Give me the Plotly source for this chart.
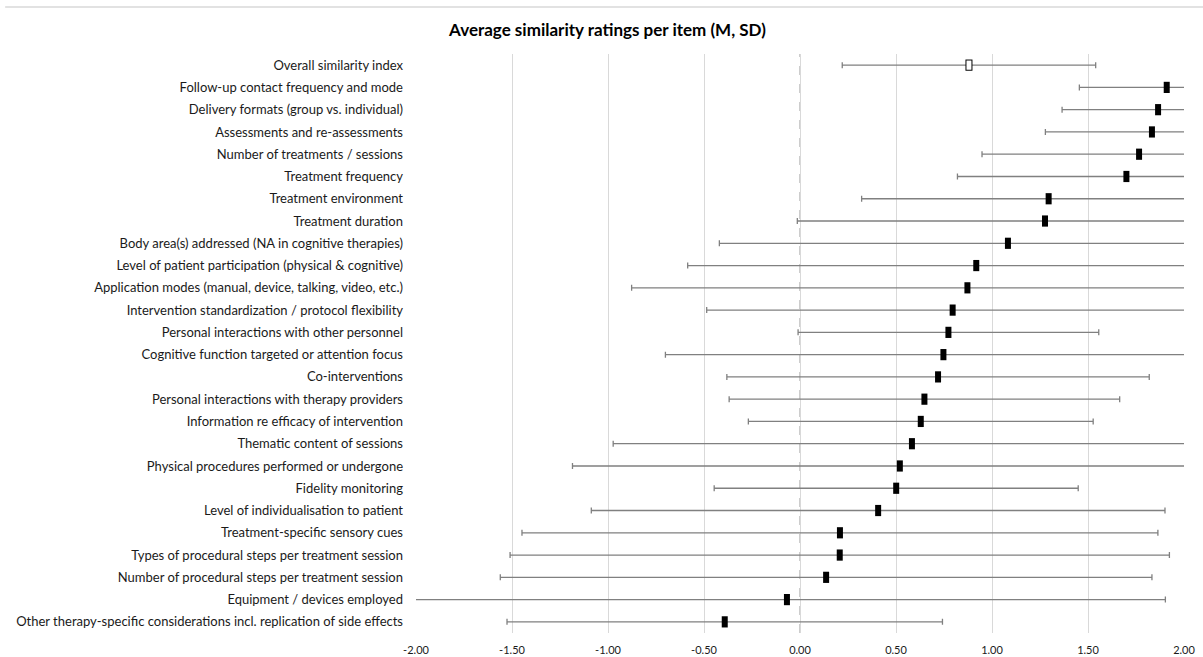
import plotly.graph_objects as go

items = [
    "Overall similarity index",
    "Follow-up contact frequency and mode",
    "Delivery formats (group vs. individual)",
    "Assessments and re-assessments",
    "Number of treatments / sessions",
    "Treatment frequency",
    "Treatment environment",
    "Treatment duration",
    "Body area(s) addressed (NA in cognitive therapies)",
    "Level of patient participation (physical & cognitive)",
    "Application modes (manual, device, talking, video, etc.)",
    "Intervention standardization / protocol flexibility",
    "Personal interactions with other personnel",
    "Cognitive function targeted or attention focus",
    "Co-interventions",
    "Personal interactions with therapy providers",
    "Information re efficacy of intervention",
    "Thematic content of sessions",
    "Physical procedures performed or undergone",
    "Fidelity monitoring",
    "Level of individualisation to patient",
    "Treatment-specific sensory cues",
    "Types of procedural steps per treatment session",
    "Number of procedural steps per treatment session",
    "Equipment / devices employed",
    "Other therapy-specific considerations incl. replication of side effects",
]

means = [0.88, 1.91, 1.865, 1.833, 1.766, 1.70, 1.295, 1.276, 1.083, 0.918,
         0.872, 0.795, 0.773, 0.747, 0.719, 0.648, 0.629, 0.583, 0.520, 0.501,
         0.407, 0.208, 0.207, 0.136, -0.068, -0.392]

sds = [0.66, 0.455, 0.50, 0.555, 0.818, 0.88, 0.974, 1.29, 1.503, 1.503,
       1.749, 1.281, 0.783, 1.448, 1.10, 1.017, 0.898, 1.556, 1.705, 0.948,
       1.494, 1.656, 1.717, 1.697, 1.971, 1.134]

tick_vals = [-2.0, -1.5, -1.0, -0.5, 0.0, 0.5, 1.0, 1.5, 2.0]
tick_text = ["-2.00", "-1.50", "-1.00", "-0.50", "0.00", "0.50", "1.00", "1.50", "2.00"]

FONT = "Lato"
ERR_COLOR = "#808080"

fig = go.Figure()

# Item rows (filled markers)
fig.add_trace(go.Scatter(
    x=means[1:], y=items[1:], mode="markers",
    marker=dict(symbol="line-ns", size=8, color="black",
                line=dict(width=6, color="black")),
    error_x=dict(type="data", array=sds[1:], visible=True,
                 color=ERR_COLOR, thickness=1.3, width=3),
    showlegend=False, hoverinfo="x+y",
))

# Overall index (hollow marker): outer black then inner white
fig.add_trace(go.Scatter(
    x=means[:1], y=items[:1], mode="markers",
    marker=dict(symbol="line-ns", size=8, color="black",
                line=dict(width=7, color="black")),
    error_x=dict(type="data", array=sds[:1], visible=True,
                 color=ERR_COLOR, thickness=1.3, width=3),
    showlegend=False, hoverinfo="x+y",
))
fig.add_trace(go.Scatter(
    x=means[:1], y=items[:1], mode="markers",
    marker=dict(symbol="line-ns", size=6.6, color="white",
                line=dict(width=5, color="white")),
    showlegend=False, hoverinfo="skip",
))

# zero reference line (dashed)
fig.add_shape(type="line", xref="x", yref="paper", x0=0, x1=0, y0=0, y1=1,
              line=dict(color="#9a9a9a", width=1, dash="dash"), layer="below")
# top border line of the chart
fig.add_shape(type="line", xref="paper", yref="paper", x0=-0.535, x1=1.03,
              y0=1.081, y1=1.081, line=dict(color="#d9d9d9", width=1.5))

n = len(items)
fig.update_layout(
    width=1203, height=657,
    margin=dict(l=416, r=19, t=54, b=24),
    paper_bgcolor="white", plot_bgcolor="white",
    title=dict(text="<b>Average similarity ratings per item (M, SD)</b>",
               x=0.505, xanchor="center", y=0.955, yanchor="middle",
               font=dict(family=FONT, size=17, color="#000000")),
    font=dict(family=FONT, color="#1a1a1a"),
    xaxis=dict(range=[-2, 2], tickvals=tick_vals, ticktext=tick_text,
               showgrid=True, gridcolor="#d9d9d9", gridwidth=1,
               zeroline=False, showline=False, ticks="",
               ticklabelstandoff=9, automargin=False,
               tickfont=dict(family=FONT, size=11, color="#1a1a1a")),
    yaxis=dict(type="category", categoryorder="array", categoryarray=items,
               range=[n - 0.5, -0.5], showgrid=False,
               zeroline=False, showline=False, ticks="",
               ticklabelstandoff=12, automargin=False,
               tickfont=dict(family=FONT, size=13, color="#1a1a1a")),
)

fig.write_html("out.html", config={"displayModeBar": False},
               post_script="document.body.style.margin='0';document.body.style.padding='0';")
